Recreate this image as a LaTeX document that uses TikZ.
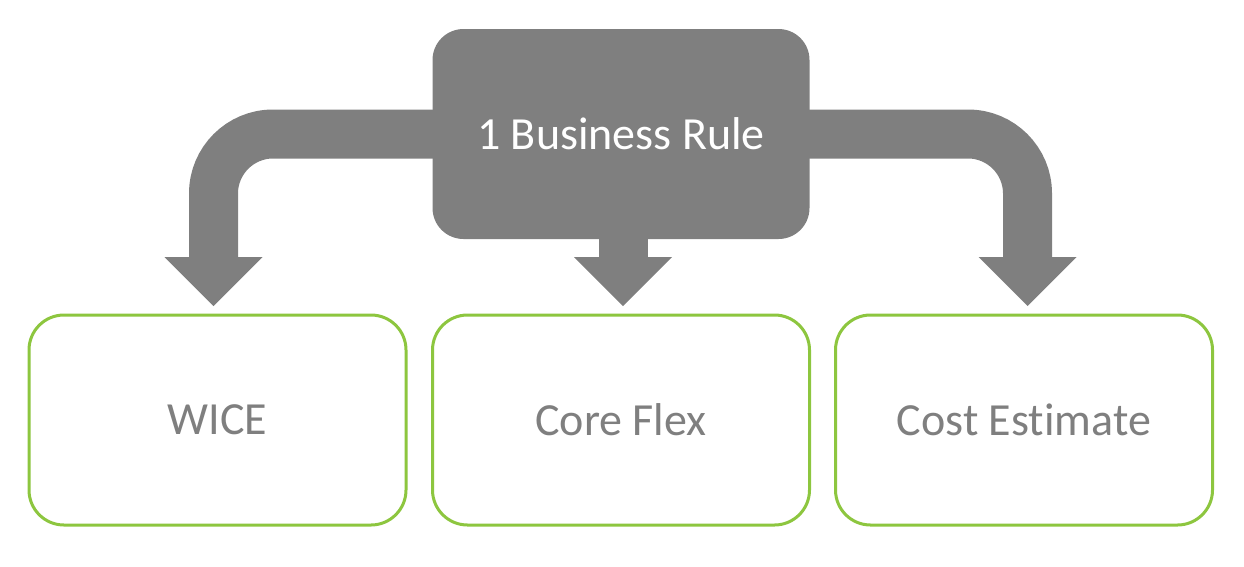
\documentclass[tikz,border=0pt]{standalone}
\usepackage{fontspec}
\setmainfont[Ligatures=NoCommon]{Carlito}
\usetikzlibrary{arrows.meta,backgrounds}
\definecolor{boxgray}{HTML}{7F7F7F}
\definecolor{leaf}{HTML}{8DC63F}
\tikzset{
  topbox/.style={fill=boxgray, draw=none, rounded corners=31pt, minimum width=377pt, minimum height=210pt, text=white, font=\fontsize{46}{50}\selectfont, inner sep=0pt},
  leafbox/.style={draw=leaf, line width=3pt, fill=white, rounded corners=35pt, minimum width=377pt, minimum height=210pt, text=boxgray, font=\fontsize{46}{50}\selectfont, inner sep=0pt},
  bigarrow/.style={draw=boxgray, line width=49pt, rounded corners=59.5pt, -{Triangle[width=98pt,length=49pt,line width=0pt]}, fill=none}
}
\begin{document}
\begin{tikzpicture}[x=1pt,y=-1pt]
\useasboundingbox (0,0) rectangle (1244,566);
\node[topbox] (rule) at (621,134) {1 Business Rule};
\node[leafbox] (wice) at (217.5,420) {WICE};
\node[leafbox] (core) at (621,420) {Core Flex};
\node[leafbox] (cost) at (1024,420) {Cost Estimate};
\coordinate (lt) at (213.5,306);
\coordinate (mt) at (623,306);
\coordinate (rt) at (1027.5,306);
\begin{scope}[on background layer]
\draw[bigarrow] (rule.center) -| (lt);
\draw[bigarrow] (rule.center) -| (rt);
\draw[bigarrow, rounded corners=0pt] (rule.center -| mt) -- (mt);
\end{scope}
\end{tikzpicture}
\end{document}
